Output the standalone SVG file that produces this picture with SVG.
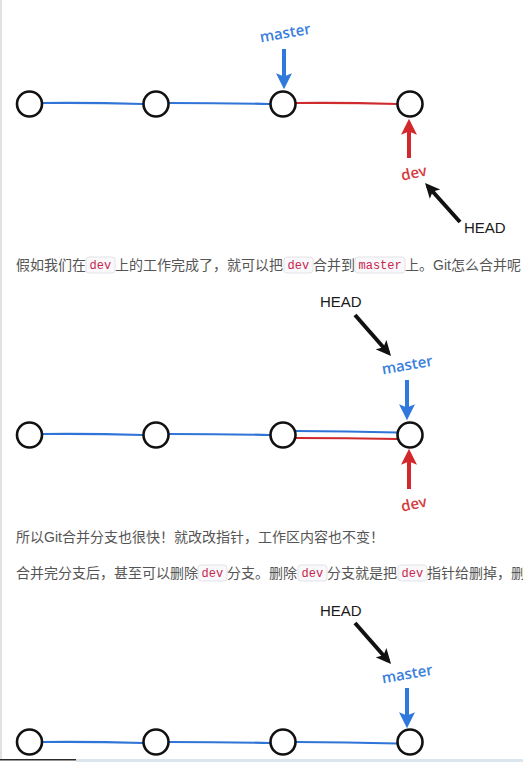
<svg xmlns="http://www.w3.org/2000/svg" width="523" height="762" viewBox="0 0 523 762">
  <style>
    .node { fill: #fff; stroke: #111; stroke-width: 2.6; }
    .lb { fill: none; stroke: #2f74d6; stroke-width: 2.2; stroke-linecap: round; }
    .lr { fill: none; stroke: #cf2a2e; stroke-width: 2.2; stroke-linecap: round; }
    .ab { fill: none; stroke: #2f78dc; stroke-width: 4; }
    .ar { fill: none; stroke: #d2282c; stroke-width: 4; }
    .ak { fill: none; stroke: #111; stroke-width: 4; }
    .tb { font-family: "Open Sans", "Noto Sans", sans-serif; font-size: 15px; font-weight: 600; fill: #3a80dc; }
    .tr { font-family: "Open Sans", "Noto Sans", sans-serif; font-size: 15px; font-weight: 600; fill: #d63a40; }
    .th { font-family: "Liberation Sans", Arial, sans-serif; font-size: 15px; fill: #1a1a1a; }
    .p { font-family: "Liberation Sans", "Noto Sans CJK SC", sans-serif; font-size: 14px; fill: #555; }
    .cbox { fill: #f9f9fb; stroke: #e3e3e8; stroke-width: 1; }
    .code { font-family: "Liberation Mono", "DejaVu Sans Mono", monospace; font-size: 12px; fill: #c7254e; }
  </style>
  <defs>
    <marker id="mb" viewBox="0 0 16 16" refX="11" refY="8" markerWidth="17" markerHeight="17" markerUnits="userSpaceOnUse" orient="auto">
      <path d="M0,0.5 L15,8 L0,15.5 L3,8 Z" fill="#2f78dc"/>
    </marker>
    <marker id="mr" viewBox="0 0 16 16" refX="11" refY="8" markerWidth="17" markerHeight="17" markerUnits="userSpaceOnUse" orient="auto">
      <path d="M0,0.5 L15,8 L0,15.5 L3,8 Z" fill="#d2282c"/>
    </marker>
    <marker id="mk" viewBox="0 0 16 16" refX="11" refY="8" markerWidth="16" markerHeight="16" markerUnits="userSpaceOnUse" orient="auto">
      <path d="M0,1 L15,8 L0,15 L3.5,8 Z" fill="#111"/>
    </marker>
  </defs>

  <rect x="0" y="0" width="523" height="762" fill="#fff"/>
  <rect x="0" y="0" width="2" height="759" fill="#e2e2e2"/>

  <!-- Diagram 1 -->
  <g id="connectors1">
    <path class="lb" d="M42,103 Q92,102.5 143,104"/>
    <path class="lb" d="M169,103 Q220,103 270,104"/>
    <path class="lr" d="M296,103 Q347,102.5 397,104"/>
    <path class="ab" d="M284,49 L284,85" marker-end="url(#mb)"/>
    <path class="ar" d="M409,158 L409,123" marker-end="url(#mr)"/>
    <path class="ak" d="M460,222 L427.7,186" marker-end="url(#mk)"/>
  </g>
  <g id="d1-n1"><circle class="node" cx="29.5" cy="104" r="12.5"/></g>
  <g id="d1-n2"><circle class="node" cx="156" cy="104" r="12.5"/></g>
  <g id="d1-n3"><circle class="node" cx="283" cy="104" r="12.5"/></g>
  <g id="d1-n4"><circle class="node" cx="410" cy="104" r="12.5"/></g>
  <g id="d1-master"><text class="tb" x="286" y="38" text-anchor="middle" transform="rotate(-10 286 38)">master</text></g>
  <g id="d1-dev"><text class="tr" x="415" y="178" text-anchor="middle" transform="rotate(-12 415 178)">dev</text></g>
  <g id="d1-head"><text class="th" x="464" y="233">HEAD</text></g>

  <!-- Paragraph 1 -->
  <g id="para1">
    <rect class="cbox" x="86" y="257" width="29" height="16" rx="3"/>
    <rect class="cbox" x="284" y="257" width="29" height="16" rx="3"/>
    <rect class="cbox" x="355" y="257" width="50" height="16" rx="3"/>
    <text class="p" y="270"><tspan x="16">假如我们在</tspan><tspan x="115">上的工作完成了，就可以把</tspan><tspan x="313">合并到</tspan><tspan x="405">上。Git怎么合并呢</tspan></text>
    <text class="code" y="269"><tspan x="89.5">dev</tspan><tspan x="287.5">dev</tspan><tspan x="358.5">master</tspan></text>
  </g>

  <!-- Diagram 2 -->
  <g id="connectors2">
    <path class="lb" d="M42,434 Q92,433.5 143,435"/>
    <path class="lb" d="M169,434 Q220,434 270,435"/>
    <path class="lb" d="M296,431 Q347,431 397,432.5"/>
    <path class="lr" d="M296,438 Q347,438 397,439"/>
    <path class="ak" d="M355,315 L388.4,353" marker-end="url(#mk)"/>
    <path class="ab" d="M407,380 L407,416" marker-end="url(#mb)"/>
    <path class="ar" d="M409,489 L409,453" marker-end="url(#mr)"/>
  </g>
  <g id="d2-n1"><circle class="node" cx="29.5" cy="435" r="12.5"/></g>
  <g id="d2-n2"><circle class="node" cx="156" cy="435" r="12.5"/></g>
  <g id="d2-n3"><circle class="node" cx="283" cy="435" r="12.5"/></g>
  <g id="d2-n4"><circle class="node" cx="410" cy="435" r="12.5"/></g>
  <g id="d2-head"><text class="th" x="320" y="307">HEAD</text></g>
  <g id="d2-master"><text class="tb" x="408" y="370" text-anchor="middle" transform="rotate(-10 408 370)">master</text></g>
  <g id="d2-dev"><text class="tr" x="415" y="509" text-anchor="middle" transform="rotate(-12 415 509)">dev</text></g>

  <!-- Paragraphs 2 and 3 -->
  <g id="para2">
    <text class="p" x="16" y="542">所以Git合并分支也很快！就改改指针，工作区内容也不变！</text>
  </g>
  <g id="para3">
    <rect class="cbox" x="198" y="565" width="29" height="16" rx="3"/>
    <rect class="cbox" x="298" y="565" width="29" height="16" rx="3"/>
    <rect class="cbox" x="398" y="565" width="29" height="16" rx="3"/>
    <text class="p" y="578"><tspan x="16">合并完分支后，甚至可以删除</tspan><tspan x="227">分支。删除</tspan><tspan x="327">分支就是把</tspan><tspan x="427">指针给删掉，删</tspan></text>
    <text class="code" y="577"><tspan x="201.5">dev</tspan><tspan x="301.5">dev</tspan><tspan x="401.5">dev</tspan></text>
  </g>

  <!-- Diagram 3 -->
  <g id="connectors3">
    <path class="lb" d="M42,742 Q92,741.5 143,743"/>
    <path class="lb" d="M169,742 Q220,742 270,743"/>
    <path class="lb" d="M296,742 Q347,742 397,743.5"/>
    <path class="ak" d="M355,623 L388.4,661" marker-end="url(#mk)"/>
    <path class="ab" d="M407,688 L407,724" marker-end="url(#mb)"/>
  </g>
  <g id="d3-n1"><circle class="node" cx="29.5" cy="742" r="12.5"/></g>
  <g id="d3-n2"><circle class="node" cx="156" cy="742" r="12.5"/></g>
  <g id="d3-n3"><circle class="node" cx="283" cy="742" r="12.5"/></g>
  <g id="d3-n4"><circle class="node" cx="410" cy="742" r="12.5"/></g>
  <g id="d3-head"><text class="th" x="320" y="616">HEAD</text></g>
  <g id="d3-master"><text class="tb" x="408" y="679" text-anchor="middle" transform="rotate(-10 408 679)">master</text></g>

  <rect x="0" y="759" width="76" height="1.5" fill="#2a2a2a"/>
  <rect x="76" y="759" width="447" height="3" fill="#dbe5ee"/>
</svg>
